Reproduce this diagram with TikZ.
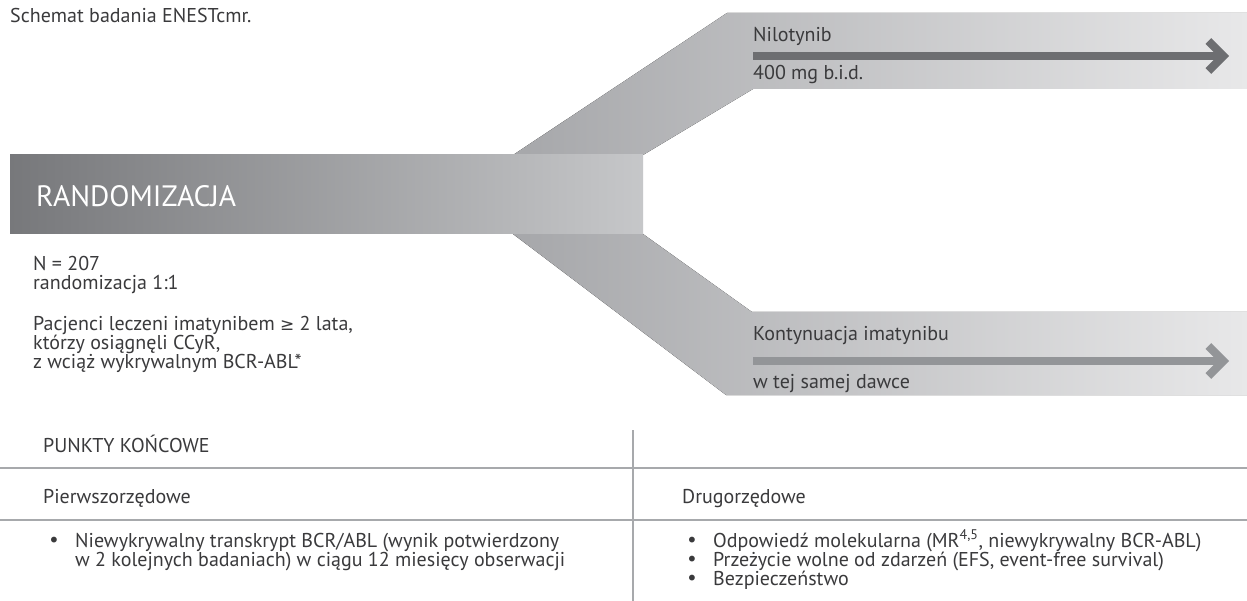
\documentclass[tikz,border=0pt]{standalone}
\usepackage{fontspec}
\setmainfont{PT Sans}
\newfontfamily\symfont{DejaVu Sans}
\usetikzlibrary{arrows.meta}
\definecolor{ink}{HTML}{3A3A3C}
\definecolor{boxl}{HTML}{77787B}
\definecolor{boxr}{HTML}{C6C7C9}
\definecolor{arml}{HTML}{A6A7AA}
\definecolor{armr}{HTML}{E8E8E9}
\definecolor{nilo}{HTML}{6D6E71}
\definecolor{imat}{HTML}{939598}
\definecolor{rulegray}{HTML}{A7A9AC}
\newcommand{\bdy}{\fontsize{20bp}{20bp}\selectfont}
\newcommand{\hdr}{\fontsize{29.5bp}{30bp}\selectfont}
\newcommand{\blt}{\makebox[27bp][l]{\symfont •}}
\newcommand{\gesym}{{\symfont\fontsize{17bp}{20bp}\selectfont ≥}}

\begin{document}
\begin{tikzpicture}[
  x=1bp, y=-1bp, text=ink, font=\bdy,
  txt/.style={anchor=base west, inner sep=0pt},
  arm/.style={left color=arml, right color=armr},
  flow/.style={line width=8bp, -{Straight Barb[length=15bp, width=30bp]}},
  tbl/.style={line width=2.5bp, draw=rulegray},
]
\fill[white] (0,0) rectangle (1247,601);
\useasboundingbox (0,0) rectangle (1247,601);
\node[txt] (ttl) at (10,23) {Schemat badania ENESTcmr.};

% ---------------- randomisation and the two arms ----------------
\fill[arm] (513,155) -- (727,13) -- (1247,13) -- (1247,89) -- (753,89) -- (643,155) -- cycle;
\fill[arm] (513,234) -- (726,395) -- (1247,395) -- (1247,312) -- (752,312) -- (643,234) -- cycle;
\fill[left color=boxl, right color=boxr] (10,155) rectangle (643,234);
\node[txt, text=white, font=\hdr] (rand) at (36,207) {RANDOMIZACJA};

\node[txt] (nilo) at (753,42) {Nilotynib};
\node[txt] (dose) at (753,80) {400 mg b.i.d.};
\coordinate (n0) at (753,56);
\coordinate (n1) at (1229,56);
\draw[flow, draw=nilo] (n0) -- (n1);

\node[txt] (kont) at (753,341) {Kontynuacja imatynibu};
\node[txt] (same) at (753,388) {w tej samej dawce};
\coordinate (i0) at (753,361);
\coordinate (i1) at (1229,361);
\draw[flow, draw=imat] (i0) -- (i1);

% ---------------- patients ----------------
\node[txt] (pn) at (33,271) {N = 207};
\node[txt] (pr) at (33,290) {randomizacja 1:1};
\node[txt] (p1) at (33,331) {Pacjenci leczeni imatynibem \gesym{} 2 lata,};
\node[txt] (p2) at (33,350) {którzy osiągnęli CCyR,};
\node[txt] (p3) at (33,369) {z wciąż wykrywalnym BCR-ABL*};

% ---------------- end points ----------------
\coordinate (h0) at (0,468);
\coordinate (h1) at (1247,468);
\coordinate (g0) at (0,520);
\coordinate (g1) at (1247,520);
\coordinate (v0) at (633,430);
\coordinate (v1) at (633,601);
\draw[tbl] (h0) -- (h1);
\draw[tbl] (g0) -- (g1);
\draw[tbl] (v0) -- (v1);
\node[txt] (ep) at (43,452) {PUNKTY KOŃCOWE};
\node[txt] (pri) at (43,503) {Pierwszorzędowe};
\node[txt] (sec) at (682,503) {Drugorzędowe};
\node[txt] (a1) at (48,547) {\blt Niewykrywalny transkrypt BCR/ABL (wynik potwierdzony};
\node[txt] (a2) at (75,566) {w 2 kolejnych badaniach) w ciągu 12 miesięcy obserwacji};
\node[txt] (b1) at (686,547) {\blt Odpowiedź molekularna (MR\textsuperscript{4,5}, niewykrywalny BCR-ABL)};
\node[txt] (b2) at (686,566) {\blt Przeżycie wolne od zdarzeń (EFS, event-free survival)};
\node[txt] (b3) at (686,585) {\blt Bezpieczeństwo};
\end{tikzpicture}
\end{document}
